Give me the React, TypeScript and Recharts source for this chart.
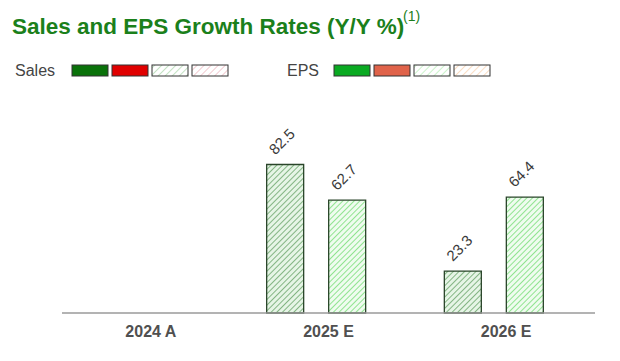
import React from 'react';
import { BarChart, Bar, XAxis, YAxis, LabelList } from 'recharts';

// categories and values
const years = ['2024 A', '2025 E', '2026 E'];
const salesGrowth: (number | null)[] = [null, 82.5, 23.3];
const epsGrowth: (number | null)[] = [null, 62.7, 64.4];

// legend swatches: positive actual, negative actual, positive estimate, negative estimate
const salesSwatches = ['#0a720a', '#e00000', 'hatch-sales-pos', 'hatch-sales-neg'];
const epsSwatches = ['#0aaa22', '#e0634a', 'hatch-eps-pos', 'hatch-eps-neg'];

const chartData = years.map((year, i) => ({
  year,
  sales: salesGrowth[i],
  eps: epsGrowth[i],
}));

const FONT = 'Liberation Sans, Arial, sans-serif';

const Hatch = ({ id, bg, line, size = 4, w = 1.2 }: { id: string; bg: string; line: string; size?: number; w?: number }) => (
  <pattern id={id} patternUnits="userSpaceOnUse" width={size} height={size} patternTransform="rotate(45)">
    <rect width={size} height={size} fill={bg} />
    <line x1={0} y1={0} x2={0} y2={size} stroke={line} strokeWidth={w} />
  </pattern>
);

const RotatedValue = (props: any) => {
  const { x, y, width, value } = props;
  if (value == null) return null;
  const tx = x + width / 2 - 10;
  const ty = y - 9;
  return (
    <text
      x={tx}
      y={ty}
      transform={`rotate(-45, ${tx}, ${ty})`}
      fill="#3a3a3a"
      fontSize={15}
      fontFamily={FONT}
      textAnchor="start"
    >
      {value}
    </text>
  );
};

const Legend = () => {
  const swatch = (fill: string, x: number) => (
    <rect
      key={x}
      x={x}
      y={65}
      width={36}
      height={11}
      fill={fill.startsWith('#') ? fill : `url(#${fill})`}
      stroke="#333"
      strokeWidth={1}
    />
  );
  return (
    <svg width={620} height={100} style={{ position: 'absolute', left: 0, top: 0 }}>
      <defs>
        <Hatch id="hatch-sales-pos" bg="#fff" line="#9bcf9b" size={5} />
        <Hatch id="hatch-sales-neg" bg="#fff" line="#eaa6b0" size={5} />
        <Hatch id="hatch-eps-pos" bg="#fff" line="#a6eba6" size={5} />
        <Hatch id="hatch-eps-neg" bg="#fff" line="#f7c79a" size={5} />
      </defs>
      <text x={12} y={34} fill="#1b801b" fontSize={22.5} fontWeight="bold" fontFamily={FONT}>
        Sales and EPS Growth Rates (Y/Y %)
      </text>
      <text x={403} y={21} fill="#1b801b" fontSize={14} fontFamily={FONT}>
        (1)
      </text>
      <text x={15} y={76} fill="#444" fontSize={16} fontFamily={FONT}>
        Sales
      </text>
      {salesSwatches.map((c, i) => swatch(c, 72 + i * 40))}
      <text x={287} y={76} fill="#444" fontSize={16} fontFamily={FONT}>
        EPS
      </text>
      {epsSwatches.map((c, i) => swatch(c, 334 + i * 40))}
    </svg>
  );
};

export default function App() {
  return (
    <div style={{ position: 'absolute', left: 0, top: 0, width: 620, height: 361, background: '#fff' }}>
      <Legend />
      <div style={{ position: 'absolute', left: 0, top: 0 }}>
        <BarChart
          width={620}
          height={361}
          data={chartData}
          margin={{ top: 133, right: 25, left: 62, bottom: 18 }}
          barSize={37}
          barGap={25}
        >
          <defs>
            <Hatch id="hatch-bar-sales" bg="#e6f5e6" line="#4f934f" size={4} w={1.3} />
            <Hatch id="hatch-bar-eps" bg="#effcef" line="#80e080" size={4} w={1.7} />
          </defs>
          <XAxis
            dataKey="year"
            height={30}
            axisLine={{ stroke: '#9a9a9a', strokeWidth: 1.5 }}
            tickLine={false}
            tick={{ fill: '#505050', fontSize: 16, fontWeight: 'bold', fontFamily: FONT }}
            tickMargin={7}
          />
          <XAxis dataKey="year" xAxisId="bars" hide padding={{ left: -12, right: 12 }} />
          <YAxis hide domain={[0, 100]} />
          <Bar dataKey="sales" xAxisId="bars" fill="url(#hatch-bar-sales)" stroke="#2a452a" strokeWidth={1.3} isAnimationActive={false}>
            <LabelList dataKey="sales" content={RotatedValue} />
          </Bar>
          <Bar dataKey="eps" xAxisId="bars" fill="url(#hatch-bar-eps)" stroke="#2a452a" strokeWidth={1.3} isAnimationActive={false}>
            <LabelList dataKey="eps" content={RotatedValue} />
          </Bar>
        </BarChart>
      </div>
    </div>
  );
}
